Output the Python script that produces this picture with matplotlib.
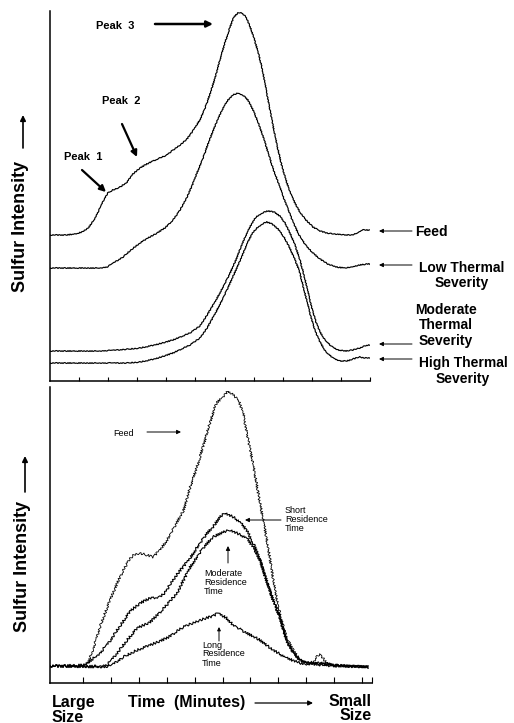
import matplotlib
matplotlib.use("Agg")
import matplotlib.pyplot as plt
import matplotlib.patches as mpatches

plt.rcParams["font.family"] = ["Liberation Sans", "DejaVu Sans"]

W, H = 514, 723

# ---- top panel: thermal severity (time in minutes, sulfur intensity in arb. units)
feed_t = [0.00, 0.52, 0.86, 1.10, 1.31, 1.51, 1.72, 1.86, 1.99, 2.16, 2.41, 2.65, 2.85,
          3.09, 3.33, 3.54, 3.78, 4.02, 4.23, 4.47, 4.71, 4.91, 5.15, 5.33, 5.50, 5.67,
          5.84, 6.01, 6.19, 6.32, 6.46, 6.60, 6.74, 6.87, 7.01, 7.15, 7.29, 7.42, 7.56,
          7.70, 7.84, 7.97, 8.11, 8.25, 8.42, 8.59, 8.80, 9.04, 9.28, 9.52, 9.79, 10.14,
          10.38, 10.58, 10.72, 10.86, 11.00]
feed_i = [146, 146, 147, 149, 153, 161, 173, 182, 188, 191, 194, 199, 207,
          213, 217, 220, 223, 226, 231, 236, 242, 250, 261, 273, 287, 303,
          321, 338, 354, 364, 368, 368, 364, 355, 343, 329, 313, 293, 271,
          250, 231, 215, 201, 189, 178, 169, 161, 154, 150, 148, 147, 146,
          146, 148, 151, 151, 151]

low_t = [0.00, 1.03, 1.72, 1.96, 2.23, 2.51, 2.78, 3.09, 3.37, 3.68, 3.95, 4.23, 4.47,
         4.71, 4.88, 5.05, 5.26, 5.43, 5.60, 5.77, 5.95, 6.12, 6.29, 6.46, 6.63, 6.80,
         6.98, 7.15, 7.32, 7.49, 7.66, 7.84, 8.01, 8.18, 8.35, 8.56, 8.76, 9.00, 9.28,
         9.55, 9.83, 10.14, 10.41, 10.65, 10.89, 11.00]
low_i = [113, 113, 113, 114, 119, 124, 131, 138, 143, 148, 153, 161, 171,
         184, 195, 208, 223, 237, 250, 262, 273, 281, 286, 288, 286, 281,
         271, 259, 245, 229, 213, 199, 185, 172, 159, 146, 137, 129, 122,
         117, 114, 113, 114, 116, 117, 117]

mod_t = [0.00, 1.72, 2.30, 2.75, 3.09, 3.61, 4.23, 4.81, 5.15, 5.40, 5.67, 5.95, 6.19,
         6.39, 6.56, 6.74, 6.91, 7.08, 7.29, 7.49, 7.70, 7.90, 8.08, 8.25, 8.42, 8.59,
         8.73, 8.87, 9.00, 9.14, 9.28, 9.45, 9.66, 9.90, 10.14, 10.41, 10.65, 10.82, 11.00]
mod_i = [30, 30, 31, 32, 33, 36, 41, 48, 55, 66, 79, 94, 108,
         121, 134, 146, 156, 164, 168, 170, 169, 165, 158, 148, 136, 121,
         106, 89, 73, 59, 49, 41, 35, 31, 30, 31, 33, 35, 36]

high_t = [0.00, 2.06, 2.65, 3.09, 3.61, 4.23, 4.81, 5.15, 5.40, 5.67, 5.95, 6.19, 6.39,
          6.60, 6.77, 6.94, 7.11, 7.29, 7.46, 7.63, 7.84, 8.04, 8.21, 8.38, 8.56, 8.69,
          8.83, 8.97, 9.11, 9.28, 9.48, 9.73, 9.97, 10.21, 10.41, 10.65, 10.82, 11.00]
high_i = [18, 18, 18, 19, 22, 28, 36, 43, 53, 67, 83, 98, 111,
          125, 137, 147, 153, 157, 159, 157, 152, 144, 135, 124, 111, 96,
          80, 64, 50, 39, 29, 23, 20, 20, 22, 24, 23, 23]

# ---- bottom panel: residence time
bfeed_t = [-0.19, 1.00, 1.18, 1.36, 1.60, 1.96, 2.32, 2.62, 2.80, 3.03, 3.27, 3.51, 3.75,
           3.99, 4.35, 4.59, 4.83, 5.07, 5.30, 5.54, 5.78, 6.02, 6.20, 6.38, 6.56, 6.74,
           6.92, 7.10, 7.34, 7.57, 7.75, 7.93, 8.11, 8.29, 8.53, 8.77, 9.01, 9.25, 9.40,
           9.49, 9.60, 9.73, 9.96, 11.22]
bfeed_i = [17, 17, 21, 34, 56, 83, 106, 122, 128, 130, 128, 126, 133,
           142, 160, 172, 195, 215, 236, 260, 280, 286, 292, 288, 284, 270,
           242, 218, 180, 146, 115, 85, 63, 46, 33, 23, 20, 21, 27,
           29, 25, 20, 18, 16]

short_t = [-0.19, 1.00, 1.15, 1.61, 1.96, 2.22, 2.32, 2.69, 3.05, 3.41, 3.76, 3.99, 4.12,
           4.35, 4.84, 5.07, 5.42, 5.66, 5.90, 6.08, 6.38, 6.62, 6.86, 7.10, 7.34, 7.57,
           7.81, 8.05, 8.29, 8.53, 8.77, 9.01, 9.49, 9.96, 11.22]
short_i = [17, 18, 20, 30, 42, 53, 57, 72, 80, 85, 86, 92, 99,
           108, 125, 135, 149, 156, 166, 170, 166, 161, 153, 140, 123, 103,
           83, 66, 43, 30, 23, 20, 18, 17, 16]

modres_t = [-0.19, 1.60, 1.86, 2.22, 2.58, 2.94, 3.41, 3.87, 4.37, 4.84, 5.30, 5.66, 6.02,
            6.26, 6.50, 6.86, 7.10, 7.34, 7.57, 7.81, 8.05, 8.29, 8.53, 8.77, 9.01, 9.49,
            9.96, 11.22]
modres_i = [17, 17, 18, 30, 43, 55, 61, 74, 90, 116, 135, 146, 151,
            153, 150, 145, 136, 123, 103, 83, 66, 43, 30, 23, 20, 19,
            18, 16]

long_t = [-0.19, 1.72, 1.97, 2.44, 2.94, 3.41, 4.01, 4.59, 5.20, 5.66, 5.84, 6.14, 6.38,
          6.86, 7.34, 7.81, 8.29, 8.77, 9.01, 9.49, 9.96, 11.22]
long_i = [17, 16, 17, 26, 33, 38, 45, 56, 63, 67, 70, 65, 58,
          50, 43, 33, 25, 20, 19, 20, 18, 16]


def P(x, y):
    # pixel position in the 514x723 picture -> figure fraction
    return (x / W, 1 - y / H)


def axes_box(x0, y0, x1, y1):
    return [x0 / W, 1 - y1 / H, (x1 - x0) / W, (y1 - y0) / H]


def style_axes(ax, ticks, ticklen):
    for side in ["top", "right"]:
        ax.spines[side].set_visible(False)
    for side in ["left", "bottom"]:
        ax.spines[side].set_linewidth(1.1)
    ax.set_xticks(ticks)
    ax.set_yticks([])
    ax.tick_params(axis="x", direction="in", length=ticklen, width=0.8, labelbottom=False)


def arrow(fig, start, end, lw=0.7, scale=6):
    fig.add_artist(mpatches.FancyArrowPatch(P(*start), P(*end), transform=fig.transFigure,
                                            arrowstyle="-|>", mutation_scale=scale,
                                            lw=lw, color="black", shrinkA=0, shrinkB=0))


fig = plt.figure(figsize=(W / 100, H / 100), dpi=100)

# top panel
ax1 = fig.add_axes(axes_box(50, 11, 370, 381))
for t, i in [(feed_t, feed_i), (low_t, low_i), (mod_t, mod_i), (high_t, high_i)]:
    line, = ax1.plot(t, i, color="black", lw=0.85)
    line.set_sketch_params(scale=0.5, length=3, randomness=2)
ax1.set_xlim(0, 11)
ax1.set_ylim(0, 370)
style_axes(ax1, range(1, 12), 3)

# bottom panel
ax2 = fig.add_axes(axes_box(50, 387, 372, 683))
line, = ax2.plot(bfeed_t, bfeed_i, color="black", lw=0.6)
line.set_sketch_params(scale=1.2, length=3, randomness=2)
for t, i in [(short_t, short_i), (modres_t, modres_i), (long_t, long_i)]:
    line, = ax2.plot(t, i, color="black", lw=0.8)
    line.set_sketch_params(scale=1.2, length=3, randomness=2)
ax2.set_xlim(-0.19, 11.36)
ax2.set_ylim(0, 296)
style_axes(ax2, list(range(1, 12)) + [11.36], 4)

# peak labels
bold = dict(fontweight="bold", color="black")
fig.text(*P(115, 26), "Peak  3", fontsize=8, ha="center", va="center", **bold)
fig.text(*P(121, 101), "Peak  2", fontsize=8, ha="center", va="center", **bold)
fig.text(*P(83, 157), "Peak  1", fontsize=8, ha="center", va="center", **bold)
arrow(fig, (155, 24), (213, 24), lw=1.8, scale=9)
arrow(fig, (122, 124), (137, 157), lw=1.6, scale=9)
arrow(fig, (82, 170), (106, 192), lw=1.6, scale=9)

# right-hand labels for the top panel
fig.text(*P(415, 232), "Feed", fontsize=10, ha="left", va="center", **bold)
fig.text(*P(462, 275.5), "Low Thermal\nSeverity", fontsize=10, ha="center", va="center",
         linespacing=1.1, **bold)
fig.text(*P(446, 325.5), "Moderate\nThermal\nSeverity", fontsize=10, ha="center", va="center",
         linespacing=1.1, **bold)
fig.text(*P(463, 371), "High Thermal\nSeverity", fontsize=10, ha="center", va="center",
         linespacing=1.1, **bold)
for y in [231, 265, 344, 359]:
    arrow(fig, (412, y), (379, y))

# bottom panel labels
small = dict(fontsize=6.5, color="black", linespacing=1.0)
fig.text(*P(113, 433), "Feed", ha="left", va="center", **small)
arrow(fig, (147, 432), (181, 432))
fig.text(*P(285, 519.5), "Short\nResidence\nTime", ha="left", va="center", **small)
arrow(fig, (281, 520), (245, 520))
fig.text(*P(204, 582.5), "Moderate\nResidence\nTime", ha="left", va="center", **small)
arrow(fig, (228, 563), (228, 546))
fig.text(*P(202, 654), "Long\nResidence\nTime", ha="left", va="center", **small)
arrow(fig, (219, 641), (219, 627), scale=5)

# axis labels
fig.text(*P(21, 226), "Sulfur Intensity", fontsize=13, rotation=90, ha="center", va="center", **bold)
arrow(fig, (23, 148), (23, 115), lw=1.2, scale=8)
fig.text(*P(23, 566), "Sulfur Intensity", fontsize=13, rotation=90, ha="center", va="center", **bold)
arrow(fig, (25, 492), (25, 456), lw=1.2, scale=8)

fig.text(*P(52, 709.5), "Large\nSize", fontsize=11.5, ha="left", va="center", linespacing=1.0, **bold)
fig.text(*P(128, 703), "Time  (Minutes)", fontsize=11.5, ha="left", va="center", **bold)
arrow(fig, (255, 703), (313, 703), lw=0.9, scale=7)
fig.text(*P(372, 708.5), "Small\nSize", fontsize=11.5, ha="right", va="center", linespacing=1.0,
         multialignment="right", **bold)

fig.savefig("out.png", dpi=100, facecolor="white")
